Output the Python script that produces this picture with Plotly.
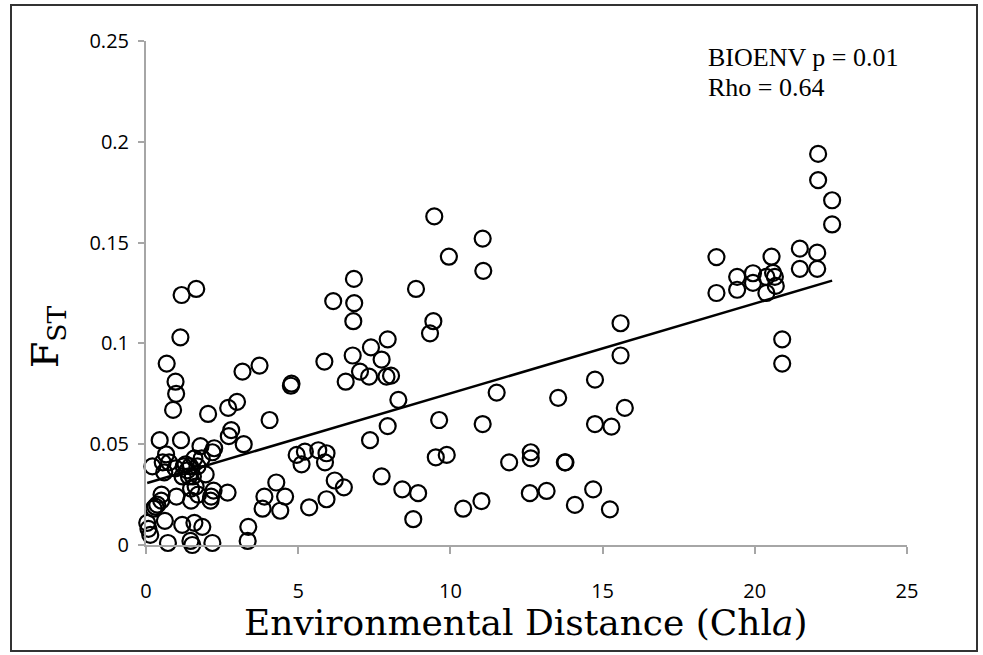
import numpy as np
import plotly.graph_objects as go

# Pairwise environmental distance (Chl a) vs. F_ST
env_dist = [
    # low-distance pairs, upper part
    1.17, 1.65, 1.13, 0.68, 0.97, 0.99, 0.89,
    0.45, 1.15, 0.21, 0.66, 0.60, 0.76, 1.24, 1.20, 1.36, 1.59, 1.79, 1.83, 1.69,
    1.96, 2.18, 2.24, 2.04, 2.72, 2.80, 2.70, 2.99, 3.17, 3.73, 3.21, 4.06, 4.76,
    4.78, 4.28, 3.89, 3.83, 4.41, 4.57, 3.36, 3.34,
    0.97, 1.41, 1.45, 0.55, 1.30,
    # low-distance pairs, lower part
    0.04, 0.08, 0.14, 0.31, 0.37, 0.25, 0.51, 0.62, 0.72, 0.50, 1.00, 1.19, 1.48,
    1.46, 1.52, 1.59, 1.85, 2.18, 1.71, 1.63, 2.14, 2.12, 2.22, 2.68, 1.48, 1.54,
    # mid-distance pairs
    4.95, 5.11, 5.22, 5.66, 5.93, 5.88, 5.36, 5.93, 6.20, 6.50, 5.86, 6.15, 6.83,
    6.84, 6.81, 6.79, 6.56, 7.03, 7.36, 7.39, 7.33, 7.74, 7.94, 7.90, 8.05, 7.94,
    8.29, 7.74, 8.42, 8.94, 8.78, 8.87, 9.33, 9.44, 9.47, 9.95, 9.63, 9.52, 9.88,
    10.42, 11.02, 11.06, 11.08, 11.06, 11.52, 11.93, 12.64, 12.64, 12.61, 13.16,
    13.54, 13.76, 13.78, 14.09, 14.69, 14.75, 14.75, 15.29, 15.24, 15.59, 15.59,
    15.73,
    # high-distance pairs
    18.74, 18.74, 19.42, 19.42, 19.94, 19.94, 20.38, 20.38, 20.55, 20.60, 20.66,
    20.69, 20.90, 20.90, 21.48, 21.48, 22.05, 22.05, 22.08, 22.08, 22.54, 22.54,
]

fst = [
    0.124, 0.127, 0.103, 0.090, 0.081, 0.075, 0.067,
    0.052, 0.052, 0.039, 0.045, 0.036, 0.041, 0.039, 0.034, 0.037, 0.043, 0.049, 0.043, 0.039,
    0.035, 0.046, 0.048, 0.065, 0.054, 0.057, 0.068, 0.071, 0.086, 0.089, 0.050, 0.062, 0.079,
    0.080, 0.031, 0.024, 0.018, 0.017, 0.024, 0.009, 0.002,
    0.038, 0.034, 0.039, 0.041, 0.040,
    0.011, 0.008, 0.005, 0.019, 0.020, 0.018, 0.025, 0.012, 0.001, 0.022, 0.024, 0.010, 0.022,
    0.002, 0.000, 0.011, 0.009, 0.001, 0.025, 0.029, 0.024, 0.022, 0.027, 0.026, 0.028, 0.034,
    0.0447, 0.040, 0.0463, 0.047, 0.0455, 0.041, 0.0187, 0.0227, 0.032, 0.0286, 0.091, 0.121, 0.132,
    0.120, 0.111, 0.094, 0.081, 0.086, 0.052, 0.098, 0.0835, 0.092, 0.102, 0.0835, 0.084, 0.059,
    0.072, 0.034, 0.0276, 0.0257, 0.0128, 0.127, 0.105, 0.111, 0.163, 0.143, 0.062, 0.0435, 0.0447,
    0.018, 0.0218, 0.152, 0.136, 0.060, 0.0756, 0.041, 0.046, 0.043, 0.0257, 0.0268,
    0.073, 0.041, 0.041, 0.0199, 0.0276, 0.082, 0.060, 0.0587, 0.0177, 0.110, 0.094,
    0.068,
    0.1428, 0.125, 0.133, 0.1266, 0.1348, 0.130, 0.133, 0.125, 0.143, 0.135, 0.133,
    0.1285, 0.102, 0.090, 0.147, 0.137, 0.145, 0.137, 0.194, 0.181, 0.171, 0.159,
]

# Linear trend (intercept, slope)
TREND_INTERCEPT = 0.0306
TREND_SLOPE = 0.00446

x_ticks = [0, 5, 10, 15, 20, 25]
y_ticks = [0, 0.05, 0.1, 0.15, 0.2, 0.25]
y_tick_text = ["0", "0.05", "0.1", "0.15", "0.2", "0.25"]

stat_lines = ["BIOENV p = 0.01", "Rho = 0.64"]

W, H = 983, 655
ML, MR, MT, MB = 146, 76, 41, 110
PW, PH = W - ML - MR, H - MT - MB


def px_to_paper(px, py):
    return (px - ML) / PW, (H - MB - py) / PH


fig = go.Figure()

fig.add_trace(go.Scatter(
    x=env_dist, y=fst, mode="markers",
    marker=dict(symbol="circle-open", size=16, color="black",
                line=dict(width=2.2, color="black")),
    cliponaxis=False, showlegend=False,
))

tx = np.array([min(env_dist), max(env_dist)])
fig.add_trace(go.Scatter(
    x=tx, y=TREND_INTERCEPT + TREND_SLOPE * tx, mode="lines",
    line=dict(color="black", width=2.5), cliponaxis=False, showlegend=False,
))

axis_gray = "#a6a6a6"
tick_font = dict(family="Liberation Sans Narrow, Open Sans, sans-serif", size=20, color="black")

fig.update_xaxes(
    range=[0, 25], tickvals=x_ticks, showline=True, linecolor=axis_gray, linewidth=2,
    ticks="outside", ticklen=7, tickwidth=2, tickcolor=axis_gray,
    showgrid=False, zeroline=False, tickfont=tick_font, ticklabelstandoff=20,
)
fig.update_yaxes(
    range=[0, 0.25], tickvals=y_ticks, ticktext=y_tick_text, showline=True,
    linecolor=axis_gray, linewidth=2, ticks="outside", ticklen=6, tickwidth=2,
    tickcolor=axis_gray, showgrid=False, zeroline=False, tickfont=tick_font,
    ticklabelstandoff=5,
)

serif_title = "DejaVu Serif, serif"
annotations = []
ax, ay = px_to_paper(526, 622)
annotations.append(dict(
    x=ax, y=ay, xref="paper", yref="paper", showarrow=False,
    text="Environmental Distance (Chl<i>a</i>)",
    font=dict(family=serif_title, size=36, color="black"),
    xanchor="center", yanchor="middle",
))
fx, fy = px_to_paper(48, 336)
annotations.append(dict(
    x=fx, y=fy, xref="paper", yref="paper", showarrow=False, textangle=-90,
    text="F<sub>ST</sub>",
    font=dict(family=serif_title, size=38, color="black"),
    xanchor="center", yanchor="middle",
))
for i, line in enumerate(stat_lines):
    sx, sy = px_to_paper(706, 57 + 30 * i)
    annotations.append(dict(
        x=sx, y=sy, xref="paper", yref="paper", showarrow=False, text=line,
        font=dict(family="Liberation Serif, Times New Roman, serif", size=26, color="black"),
        xanchor="left", yanchor="middle",
    ))

# outer frame around the whole figure
fx0, fy0 = px_to_paper(11, 651)
fx1, fy1 = px_to_paper(977, 5)
shapes = [dict(type="rect", xref="paper", yref="paper", x0=fx0, y0=fy0, x1=fx1, y1=fy1,
               line=dict(color="#333333", width=2))]

fig.update_layout(
    width=W, height=H, margin=dict(l=ML, r=MR, t=MT, b=MB),
    paper_bgcolor="white", plot_bgcolor="white",
    annotations=annotations, shapes=shapes,
)

fig.write_html("out.html")
